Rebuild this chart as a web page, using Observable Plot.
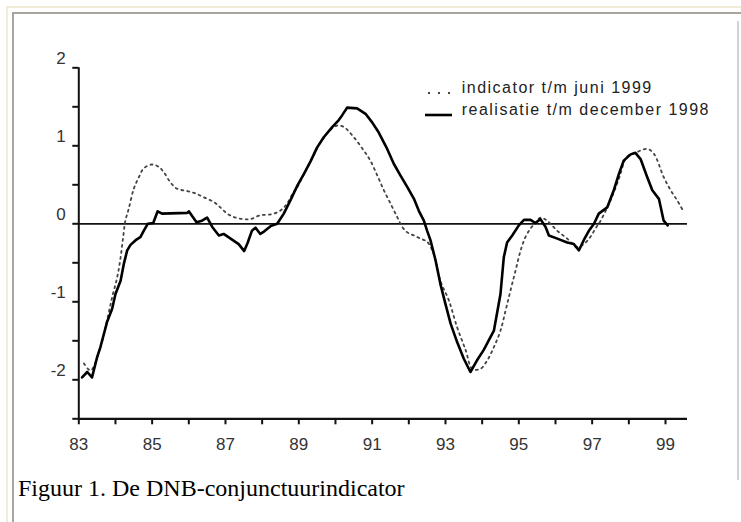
<!DOCTYPE html>
<html><head><meta charset="utf-8">
<script src="https://cdn.jsdelivr.net/npm/d3@7"></script>
<script src="https://cdn.jsdelivr.net/npm/@observablehq/plot@0.6"></script>
<style>
html,body{margin:0;padding:0;background:#fff;}
#wrap{position:relative;width:741px;height:522px;overflow:hidden;background:#fff;}
.b{position:absolute;}
#caption{font-family:"Liberation Serif","Times New Roman",serif;font-size:24px;line-height:24px;color:#000;white-space:nowrap;}
</style></head><body>
<div id="wrap">
 <div class="b" style="left:6px;top:6px;width:735px;height:2px;background:#f1ebd9"></div>
 <div class="b" style="left:6px;top:6px;width:2px;height:516px;background:#f1ebd9"></div>
 <div class="b" style="left:12px;top:12px;width:729px;height:2px;background:#a9a59d"></div>
 <div class="b" style="left:12px;top:12px;width:2px;height:510px;background:#a9a59d"></div>
 <div class="b" style="left:737px;top:21px;width:2px;height:459px;background:#d2d2d2"></div>
 <div id="chart" class="b" style="left:0;top:0"></div>
 <div id="legend" class="b" style="left:0;top:0"></div>
 <div id="caption" class="b" style="left:18px;top:476px">Figuur 1. De DNB-conjunctuurindicator</div>
</div>
<script>
// ---- data ----
const xTickYears = [83,84,85,86,87,88,89,90,91,92,93,94,95,96,97,98,99];
const yTickValues = [-2.5,-2,-1.5,-1,-0.5,0,0.5,1,1.5,2];
const yLabelValues = [-2,-1,0,1,2];

const indicatorT = [83.14,83.32,83.59,83.77,83.91,84.05,84.14,84.21,84.27,84.36,84.50,84.64,84.77,85.00,85.18,85.32,85.50,85.68,85.96,86.18,86.41,86.68,86.86,87.05,87.27,87.50,87.68,87.95,88.23,88.50,88.68,88.85,88.96,89.14,89.32,89.50,89.68,89.85,90.05,90.23,90.50,90.77,90.95,91.14,91.32,91.50,91.68,91.82,91.96,92.14,92.32,92.50,92.64,92.73,92.86,93.09,93.32,93.55,93.73,93.95,94.14,94.32,94.50,94.64,94.77,94.91,95.05,95.18,95.32,95.45,95.59,95.77,96.05,96.32,96.59,96.77,96.95,97.09,97.23,97.50,97.73,97.95,98.18,98.50,98.68,98.95,99.14,99.32,99.50];
const indicatorV = [-1.79,-1.88,-1.58,-1.24,-0.94,-0.68,-0.43,-0.17,0.04,0.19,0.45,0.60,0.71,0.76,0.73,0.66,0.53,0.45,0.42,0.39,0.34,0.28,0.21,0.13,0.08,0.06,0.06,0.11,0.12,0.17,0.26,0.40,0.47,0.64,0.80,0.97,1.10,1.20,1.26,1.24,1.11,0.94,0.81,0.62,0.43,0.26,0.09,-0.04,-0.11,-0.15,-0.19,-0.23,-0.34,-0.47,-0.73,-0.98,-1.33,-1.62,-1.86,-1.86,-1.75,-1.58,-1.37,-1.11,-0.86,-0.60,-0.34,-0.17,-0.06,0.01,0.08,0.04,-0.09,-0.19,-0.30,-0.26,-0.17,-0.06,0.04,0.30,0.58,0.86,0.91,0.96,0.90,0.60,0.43,0.30,0.15];

const realisatieT = [83.09,83.23,83.36,83.50,83.59,83.77,83.91,84.00,84.14,84.23,84.32,84.41,84.55,84.68,84.77,84.88,85.03,85.15,85.27,85.96,86.00,86.21,86.36,86.50,86.64,86.82,86.95,87.14,87.36,87.51,87.60,87.72,87.82,87.95,88.05,88.23,88.41,88.59,88.77,88.96,89.14,89.32,89.50,89.68,89.91,90.09,90.18,90.32,90.59,90.82,91.00,91.18,91.41,91.59,91.77,91.96,92.14,92.27,92.41,92.50,92.59,92.73,92.86,93.00,93.14,93.32,93.50,93.68,93.86,94.04,94.32,94.50,94.59,94.68,94.82,95.00,95.14,95.32,95.45,95.59,95.73,95.82,96.05,96.32,96.50,96.64,96.77,96.91,97.05,97.18,97.41,97.59,97.73,97.86,98.05,98.18,98.32,98.50,98.64,98.82,98.95,99.06];
const realisatieV = [-1.97,-1.90,-1.97,-1.71,-1.58,-1.26,-1.09,-0.90,-0.73,-0.51,-0.34,-0.27,-0.21,-0.17,-0.09,0.00,0.01,0.16,0.13,0.14,0.16,0.02,0.04,0.08,-0.04,-0.15,-0.13,-0.19,-0.26,-0.35,-0.25,-0.09,-0.05,-0.13,-0.10,-0.03,0.00,0.13,0.30,0.49,0.64,0.80,0.98,1.11,1.24,1.33,1.39,1.49,1.48,1.41,1.30,1.17,0.96,0.77,0.62,0.47,0.32,0.17,0.04,-0.09,-0.21,-0.47,-0.77,-1.03,-1.28,-1.52,-1.73,-1.90,-1.75,-1.62,-1.37,-0.90,-0.43,-0.24,-0.15,-0.02,0.05,0.05,0.01,0.06,-0.04,-0.15,-0.19,-0.24,-0.26,-0.34,-0.21,-0.09,0.00,0.13,0.21,0.43,0.64,0.81,0.89,0.91,0.83,0.60,0.43,0.32,0.04,-0.02];

const legendLabels = ["indicator t/m juni 1999", "realisatie t/m december 1998"];
const captionText = "Figuur 1. De DNB-conjunctuurindicator";

// ---- build ----
const indicator = indicatorT.map((t,i) => ({t, v: indicatorV[i]}));
const realisatie = realisatieT.map((t,i) => ({t, v: realisatieV[i]}));

const xMin = 83, xMax = 99.6, yMin = -2.5, yMax = 2;

const chart = Plot.plot({
  width: 741,
  height: 470,
  marginLeft: 78.3,
  marginRight: 54,
  marginTop: 67.3,
  marginBottom: 51.7,
  x: {domain: [xMin, xMax], label: null},
  y: {domain: [yMin, yMax], label: null},
  style: {fontFamily: "'Liberation Sans', Arial, sans-serif", fontSize: "17px", color: "#333", background: "transparent", overflow: "visible"},
  marks: [
    Plot.axisY({ticks: yTickValues, tickSize: 6, tickFormat: () => "", label: null, stroke: "#111", strokeWidth: 2}),
    Plot.text(yLabelValues, {x: xMin, y: d => d, text: d => String(d), textAnchor: "end", dx: -13, dy: -9, fill: "#333", fontSize: 17}),
    Plot.axisX({ticks: xTickYears, tickSize: 6, tickPadding: 13, label: null, tickFormat: d => (d % 2 ? String(d) : ""), stroke: "#111", strokeWidth: 2, fill: "#333"}),
    Plot.ruleX([xMin], {y1: yMin, y2: yMax, stroke: "#111", strokeWidth: 2}),
    Plot.ruleY([yMin], {x1: xMin, x2: xMax, stroke: "#111", strokeWidth: 2.2}),
    Plot.ruleY([0], {x1: xMin, x2: xMax, stroke: "#111", strokeWidth: 1.8}),
    Plot.line(indicator, {x: "t", y: "v", stroke: "#444", strokeWidth: 1.8, strokeDasharray: "2,4", curve: "catmull-rom"}),
    Plot.line(realisatie, {x: "t", y: "v", stroke: "#000", strokeWidth: 2.6, curve: "linear", strokeLinejoin: "round"})
  ]
});
document.getElementById("chart").appendChild(chart);

// legend overlay
const lg = d3.select("#legend").append("svg").attr("width", 741).attr("height", 130)
  .style("font-family", "'Liberation Sans', Arial, sans-serif");
const rows = [
  {label: legendLabels[0], dash: "2,8", w: 2, color: "#444", y: 93, x1: 428, x2: 452},
  {label: legendLabels[1], dash: null, w: 2.6, color: "#000", y: 115, x1: 425, x2: 452}
];
rows.forEach(r => {
  const l = lg.append("line").attr("x1", r.x1).attr("x2", r.x2).attr("y1", r.y).attr("y2", r.y)
    .attr("stroke", r.color).attr("stroke-width", r.w);
  if (r.dash) l.attr("stroke-dasharray", r.dash);
  lg.append("text").attr("x", 461.7).attr("y", r.y).attr("font-size", 16)
    .attr("letter-spacing", "1.5px").attr("fill", "#222").text(r.label);
});
document.getElementById("caption").textContent = captionText;
</script>
</body></html>
